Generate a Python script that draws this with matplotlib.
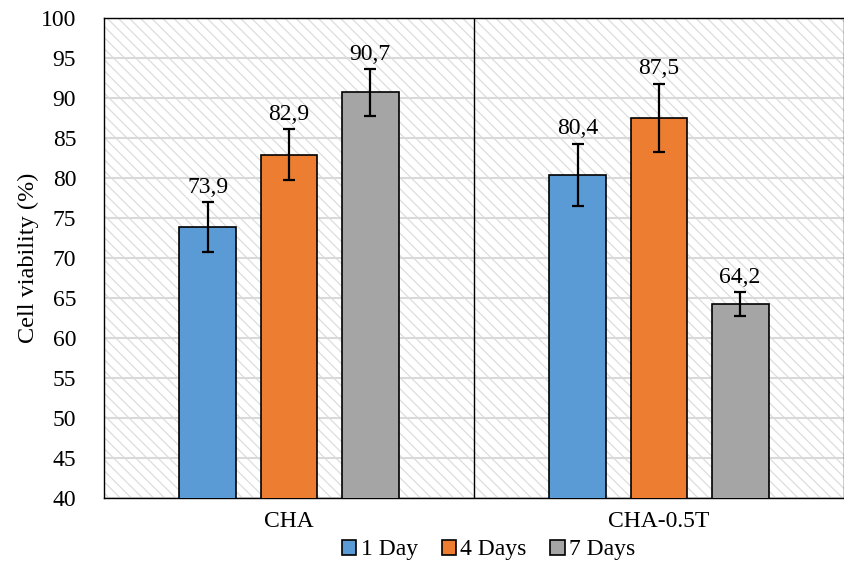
import matplotlib.pyplot as plt
import matplotlib.patches as mpatches
import numpy as np

plt.rcParams['font.family'] = ['Liberation Serif', 'DejaVu Serif']
plt.rcParams['hatch.linewidth'] = 0.9

groups = ['CHA', 'CHA-0.5T']
series = ['1 Day', '4 Days', '7 Days']
colors = ['#5B9BD5', '#ED7D31', '#A5A5A5']
values = [[73.9, 82.9, 90.7],
          [80.4, 87.5, 64.2]]
errors = [[3.1, 3.2, 2.9],
          [3.9, 4.3, 1.5]]

fig = plt.figure(figsize=(8.45, 5.68), dpi=100)
ax = fig.add_axes([0.1231, 0.1232, 0.8757, 0.8451])

# hatched plot background
bg = mpatches.Rectangle((0, 0), 1, 1, transform=ax.transAxes, facecolor='white',
                        edgecolor='#dddddd', hatch='\\\\\\', linewidth=0, zorder=0)
ax.add_patch(bg)
ax.set_facecolor('white')

centers = np.array([0.5, 1.5])
offsets = [-0.219, 0.0, 0.219]
width = 0.154

for j, name in enumerate(series):
    vals = [values[g][j] for g in range(len(groups))]
    errs = [errors[g][j] for g in range(len(groups))]
    x = centers + offsets[j]
    ax.bar(x, vals, width, bottom=0, color=colors[j], edgecolor='black',
           linewidth=1.2, label=name, zorder=3)
    ax.errorbar(x, vals, yerr=errs, fmt='none', ecolor='black', elinewidth=1.6,
                capsize=4, capthick=1.6, zorder=4)
    for xi, v, e in zip(x, vals, errs):
        ax.annotate(f'{v:.1f}'.replace('.', ','), (xi, v + e), xytext=(0, 3),
                    textcoords='offset points', ha='center', va='bottom',
                    fontsize=17, zorder=5)

ax.axvline(1.0, color='black', linewidth=1.0, zorder=2)

ax.set_xlim(0, 2)
ax.set_ylim(40, 100)
ax.set_yticks(np.arange(40, 101, 5))
ax.yaxis.grid(True, color='#d9d9d9', linewidth=1.5, zorder=1)
ax.set_axisbelow(True)
ax.set_xticks(centers)
ax.set_xticklabels(groups)
ax.tick_params(axis='both', length=0, labelsize=17)
ax.tick_params(axis='y', pad=20)
ax.tick_params(axis='x', pad=9)
for s in ax.spines.values():
    s.set_color('black')
    s.set_linewidth(1.0)

ax.set_ylabel('Cell viability (%)', fontsize=17.5, labelpad=1)

ax.legend(loc='center', bbox_to_anchor=(0.52, -0.108), ncol=3, frameon=False,
          fontsize=17, handlelength=0.6, handleheight=0.6, handletextpad=0.2,
          columnspacing=1.0)

fig.savefig('out.png', dpi=100)
